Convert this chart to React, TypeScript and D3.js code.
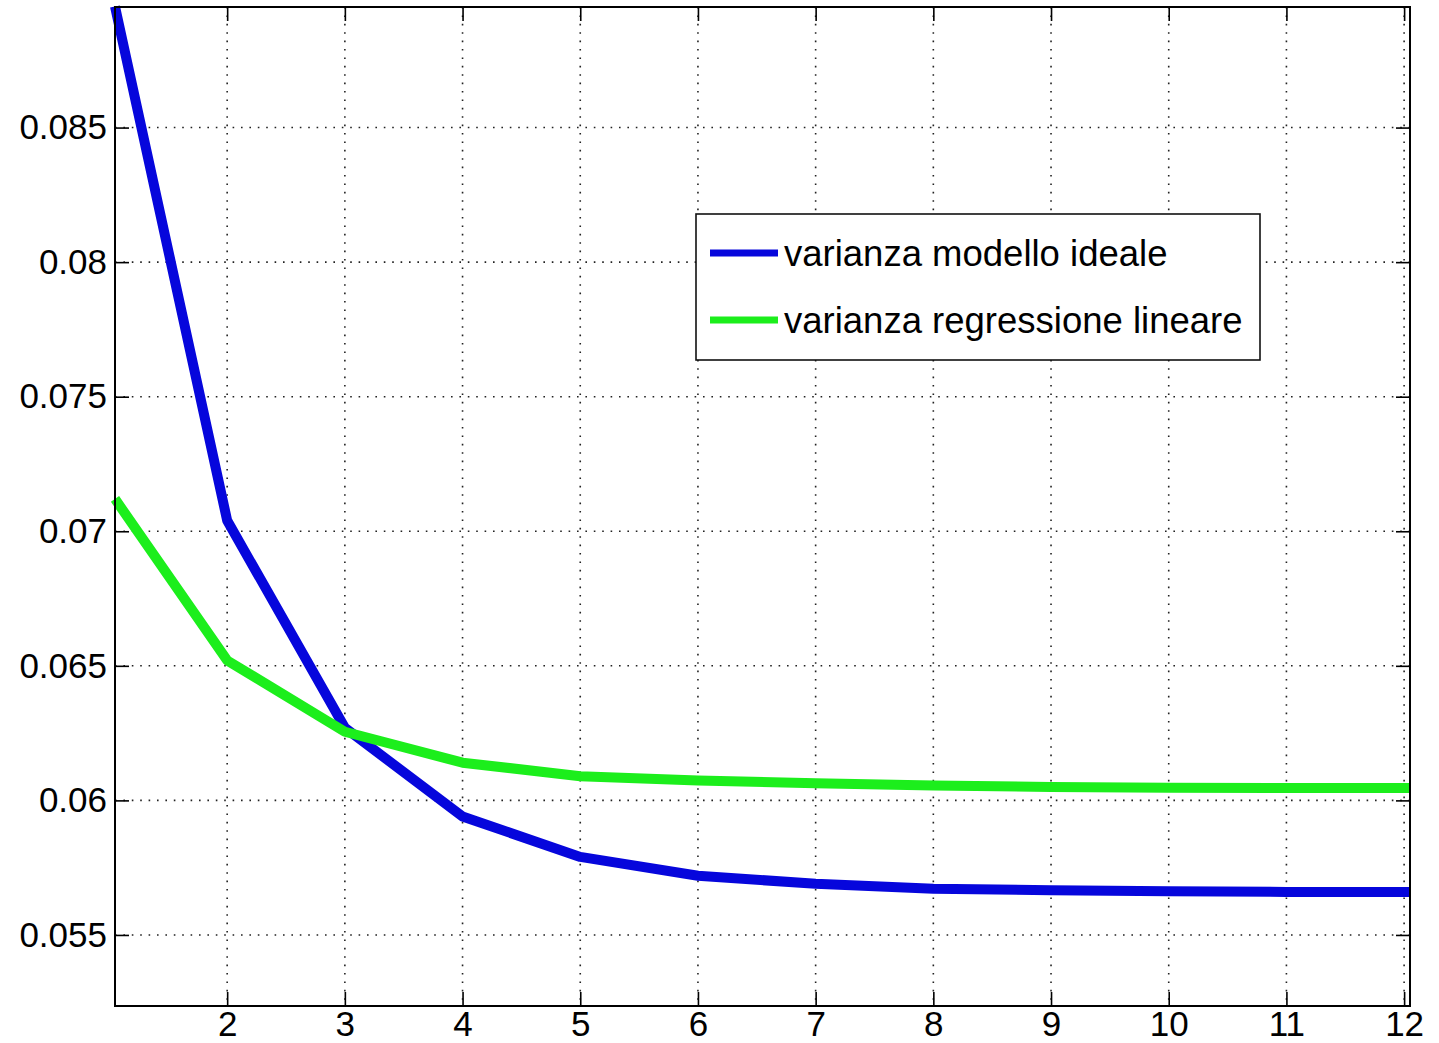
import React, { useEffect, useRef } from 'react';
import * as d3 from 'd3';

// x positions of the samples (the curves run from the left to the right border)
const steps = [1.047, 2, 3, 4, 5, 6, 7, 8, 9, 10, 11, 12.05];
const varModelloIdeale = [0.0895, 0.0704, 0.0627, 0.0594, 0.0579, 0.0572, 0.0569, 0.05672, 0.05666, 0.05662, 0.0566, 0.0566];
const varRegressioneLineare = [0.0712, 0.0652, 0.06255, 0.0614, 0.0609, 0.06074, 0.06064, 0.06055, 0.0605, 0.06047, 0.06046, 0.06046];
const xTicks = [2, 3, 4, 5, 6, 7, 8, 9, 10, 11, 12];
const yTicks = [0.055, 0.06, 0.065, 0.07, 0.075, 0.08, 0.085];
const legendLabels = ['varianza modello ideale', 'varianza regressione lineare'];
const colors = ['#0606dc', '#1cee1c'];

const W = 1439;
const H = 1043;
const FONT = '"Liberation Sans", Arial, Helvetica, sans-serif';

export default function App() {
    const ref = useRef<SVGSVGElement>(null);

    useEffect(() => {
        const margin = { top: 7, right: 29, bottom: 37, left: 115 };
        const width = W - margin.left - margin.right;
        const height = H - margin.top - margin.bottom;

        const root = d3.select(ref.current);
        root.selectAll('*').remove();

        const svg = root.append('g').attr('transform', `translate(${margin.left},${margin.top})`);

        const xScale = d3.scaleLinear().domain([1.047, 12.05]).range([0, width]);
        const yScale = d3.scaleLinear().domain([0.05236, 0.08948]).range([height, 0]);

        // dotted grid
        svg.append('g').selectAll('line').data(xTicks).join('line')
            .attr('x1', d => xScale(d)).attr('x2', d => xScale(d))
            .attr('y1', 0).attr('y2', height)
            .attr('stroke', '#222').attr('stroke-width', 1.6)
            .attr('stroke-dasharray', '1.6,6.8');
        svg.append('g').selectAll('line').data(yTicks).join('line')
            .attr('x1', 0).attr('x2', width)
            .attr('y1', d => yScale(d)).attr('y2', d => yScale(d))
            .attr('stroke', '#222').attr('stroke-width', 1.6)
            .attr('stroke-dasharray', '1.6,6.8');

        // axes (ticks point inwards, like matlab)
        const bottom = svg.append('g')
            .attr('transform', `translate(0,${height})`)
            .call(d3.axisBottom(xScale).tickValues(xTicks).tickSize(-14).tickPadding(5).tickFormat(d3.format('d')));
        const left = svg.append('g')
            .call(d3.axisLeft(yScale).tickValues(yTicks).tickSize(-14).tickPadding(8).tickFormat(d => String(+d)));
        const top = svg.append('g')
            .call(d3.axisTop(xScale).tickValues(xTicks).tickSize(-14).tickFormat(() => ''));
        const right = svg.append('g')
            .attr('transform', `translate(${width},0)`)
            .call(d3.axisRight(yScale).tickValues(yTicks).tickSize(-14).tickFormat(() => ''));

        [bottom, left, top, right].forEach(g => {
            g.select('.domain').remove();
            g.selectAll('line').attr('stroke', '#000').attr('stroke-width', 1.6);
            g.selectAll('text')
                .style('font-family', FONT)
                .style('font-size', '35px')
                .attr('fill', '#000');
        });

        const line = d3.line<number>()
            .x((d, i) => xScale(steps[i]))
            .y(d => yScale(d));

        [varModelloIdeale, varRegressioneLineare].forEach((series, i) => {
            svg.append('path')
                .datum(series)
                .attr('fill', 'none')
                .attr('stroke', colors[i])
                .attr('stroke-width', 10)
                .attr('stroke-linejoin', 'round')
                .attr('d', line);
        });

        // box
        svg.append('rect')
            .attr('x', 0).attr('y', 0)
            .attr('width', width).attr('height', height)
            .attr('fill', 'none')
            .attr('stroke', '#000')
            .attr('stroke-width', 2);

        // legend
        const legend = root.append('g').attr('transform', 'translate(696,214)');
        legend.append('rect')
            .attr('width', 564).attr('height', 146)
            .attr('fill', '#fff')
            .attr('stroke', '#111')
            .attr('stroke-width', 1.6);
        legendLabels.forEach((label, i) => {
            const y = 39 + i * 67;
            legend.append('line')
                .attr('x1', 14).attr('x2', 82)
                .attr('y1', y).attr('y2', y)
                .attr('stroke', colors[i])
                .attr('stroke-width', 7);
            legend.append('text')
                .attr('x', 88).attr('y', y)
                .attr('dy', '0.35em')
                .text(label)
                .style('font-family', FONT)
                .style('font-size', '36.5px')
                .attr('fill', '#000');
        });
    }, []);

    return (
        <svg ref={ref} width={W} height={H}
            style={{ position: 'absolute', left: 0, top: 0, background: '#fff' }} />
    );
}
